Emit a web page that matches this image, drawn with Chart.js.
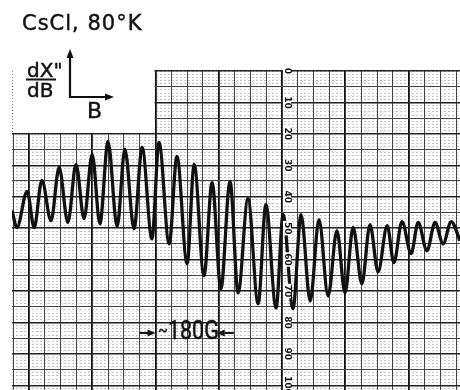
<!DOCTYPE html>
<html>
<head>
<meta charset="utf-8">
<script src="https://cdn.jsdelivr.net/npm/chart.js@4.4.1/dist/chart.umd.min.js"></script>
<style>
  html, body { margin:0; padding:0; background:#fff; }
  #wrap { position:relative; width:460px; height:390px; overflow:hidden;
          font-family:"DejaVu Sans", sans-serif; color:#111; }
  #wrap canvas { position:absolute; left:0; top:0; }
  .lbl { position:absolute; white-space:nowrap; line-height:1; -webkit-text-stroke:0.45px #111; }
</style>
</head>
<body>
<div id="wrap">
  <canvas id="c" width="460" height="390"></canvas>
  <div class="lbl" style="left:22px;top:13px;font-size:21px;letter-spacing:1px">CsCl, 80°K</div>
  <div class="lbl" style="left:27px;top:60px;font-size:20px">dX"</div>
  <div class="lbl" style="left:27px;top:80px;font-size:20px">dB</div>
  <div class="lbl" style="left:87px;top:100px;font-size:22px">B</div>
  <div class="lbl" style="left:158px;top:318px;font-size:25px;font-family:Roboto,sans-serif;transform:scaleX(0.86);transform-origin:left top"><span style="font-size:17px;vertical-align:3px">~</span>180G</div>
</div>

<script>
// ---- data ----
// field, gauss (0 = left edge of the paper), at each peak / trough
const FIELD_G = [0, 14, 43, 63, 85, 111, 134, 159, 182, 205, 228, 250, 273, 299, 321, 347,
  370, 398, 418, 447, 469, 498, 518, 546, 569, 594, 620, 643, 671, 700, 722, 751, 771, 799,
  822, 848, 873, 899, 924, 947, 970, 995, 1018, 1041, 1067, 1086, 1109, 1135, 1155, 1180,
  1203, 1226, 1249, 1274];
// pen position in chart divisions (0 at top of paper, grows downwards)
const SIGNAL = [44.4, 49.8, 38.3, 49.8, 34.8, 47.6, 30.7, 48.2, 29.7, 47.0, 26.5, 48.6, 22.4,
  49.5, 24.9, 50.2, 24.3, 53.4, 22.7, 55.0, 27.2, 61.3, 29.7, 65.2, 35.5, 69.3, 35.1, 70.6,
  40.6, 74.1, 42.5, 75.4, 45.7, 75.7, 45.7, 73.2, 47.3, 71.6, 50.8, 70.6, 49.8, 67.7, 48.9,
  63.9, 49.2, 61.0, 47.9, 58.1, 48.2, 57.2, 48.2, 55.0, 47.9, 54.0];

// printed divisions of the chart paper
const SCALE_LABELS = [0, 10, 20, 30, 40, 50, 60, 70, 80, 90, 100];
const X_MIN = 0, X_MAX = 1274;
const Y_MIN = 0, Y_MAX = 101.5;
const GRID_X_START = 3, GRID_X_STEP = 45, HEAVY_X_START = 48, HEAVY_X_STEP = 180;
const GRID_Y_STEP = 5;
const LABEL_FIELD = 782;      // field where the division numbers are printed
const BOX_FIELD = 408, BOX_DIV = 20;  // white caption corner of the paper

const range = (a, b, s) => { const r = []; for (let v = a; v <= b + 1e-6; v += s) r.push(+v.toFixed(3)); return r; };

const isHeavyX = v => Math.abs(((v - HEAVY_X_START) % HEAVY_X_STEP + HEAVY_X_STEP) % HEAVY_X_STEP) < 0.5;

const paper = {
  id: 'paper',
  beforeDatasetsDraw(chart) {
    const { ctx, chartArea: a } = chart;
    const xs = chart.scales.x, ys = chart.scales.y;
    // blank corner where the captions sit
    const r = xs.getPixelForValue(BOX_FIELD) - 1;
    const b = ys.getPixelForValue(BOX_DIV) - 1;
    ctx.save();
    ctx.fillStyle = '#fff';
    ctx.fillRect(a.left - 2, 0, r - a.left + 2, b);
    ctx.strokeStyle = '#777';
    ctx.lineWidth = 1;
    ctx.setLineDash([1, 2]);
    ctx.beginPath();
    ctx.moveTo(a.left + 0.5, a.top);
    ctx.lineTo(a.left + 0.5, b);
    ctx.stroke();
    ctx.restore();
  },
  afterDraw(chart) {
    const { ctx } = chart;
    const xs = chart.scales.x, ys = chart.scales.y;
    ctx.save();
    // division numbers, printed sideways
    const lx = xs.getPixelForValue(LABEL_FIELD);
    ctx.font = 'bold 9px "DejaVu Sans", sans-serif';
    ctx.textAlign = 'center';
    ctx.textBaseline = 'middle';
    SCALE_LABELS.forEach(v => {
      const y = ys.getPixelForValue(v);
      ctx.save();
      ctx.translate(lx, y);
      ctx.rotate(Math.PI / 2);
      const w = ctx.measureText(String(v)).width;
      ctx.fillStyle = '#fff';
      ctx.fillRect(-w / 2 - 1, -4, w + 2, 8);
      ctx.fillStyle = '#111';
      ctx.fillText(String(v), 0, 0);
      ctx.restore();
    });

    // fraction bar and axis sketch
    ctx.strokeStyle = '#111';
    ctx.fillStyle = '#111';
    ctx.lineWidth = 2.2;
    ctx.beginPath();
    ctx.moveTo(26, 79.5); ctx.lineTo(56, 79.5);
    ctx.moveTo(70, 57); ctx.lineTo(70, 97); ctx.lineTo(106, 97);
    ctx.stroke();
    ctx.beginPath();
    ctx.moveTo(70, 49); ctx.lineTo(66.5, 58); ctx.lineTo(73.5, 58); ctx.closePath();
    ctx.moveTo(114, 97); ctx.lineTo(105, 93.5); ctx.lineTo(105, 100.5); ctx.closePath();
    ctx.fill();

    // 180 G bracket, one heavy division of the paper
    const ay = 333;
    const x1 = xs.getPixelForValue(HEAVY_X_START + 2 * HEAVY_X_STEP);
    const x2 = xs.getPixelForValue(HEAVY_X_START + 3 * HEAVY_X_STEP);
    ctx.lineWidth = 2;
    ctx.beginPath();
    ctx.moveTo(x1 - 16, ay); ctx.lineTo(x1 - 6, ay);
    ctx.moveTo(x2 + 6, ay); ctx.lineTo(x2 + 15, ay);
    ctx.stroke();
    ctx.beginPath();
    ctx.moveTo(x1, ay); ctx.lineTo(x1 - 8, ay - 3.5); ctx.lineTo(x1 - 8, ay + 3.5); ctx.closePath();
    ctx.moveTo(x2 - 2, ay); ctx.lineTo(x2 + 6, ay - 3.5); ctx.lineTo(x2 + 6, ay + 3.5); ctx.closePath();
    ctx.fill();
    ctx.restore();
  }
};

const hidden = { ticks: { display: false }, border: { display: false } };

new Chart(document.getElementById('c'), {
  type: 'line',
  data: {
    datasets: [{
      data: FIELD_G.map((g, i) => ({ x: g, y: SIGNAL[i] })),
      borderColor: '#111',
      borderWidth: 3.3,
      pointRadius: 0,
      cubicInterpolationMode: 'monotone',
      fill: false
    }]
  },
  options: {
    responsive: false,
    animation: false,
    devicePixelRatio: 1,
    layout: { padding: { left: 12, top: 71, right: 0, bottom: 0 } },
    plugins: { legend: { display: false }, tooltip: { enabled: false } },
    scales: {
      xf: {
        type: 'linear', axis: 'x', position: 'bottom', min: X_MIN, max: X_MAX, ...hidden,
        border: { display: false, dash: [1, 3] },
        afterBuildTicks: s => { s.ticks = range(GRID_X_START, X_MAX, GRID_X_STEP / 5).map(v => ({ value: v })); },
        grid: { drawTicks: false, color: 'rgba(0,0,0,0.10)', lineWidth: 1 }
      },
      yf: {
        type: 'linear', axis: 'y', position: 'left', reverse: true, min: Y_MIN, max: Y_MAX, ...hidden,
        border: { display: false, dash: [2, 2] },
        afterBuildTicks: s => { s.ticks = range(Y_MIN, Y_MAX, GRID_Y_STEP / 5).map(v => ({ value: v })); },
        grid: { drawTicks: false, color: 'rgba(0,0,0,0.22)', lineWidth: 1 }
      },
      x: {
        type: 'linear', min: X_MIN, max: X_MAX, ...hidden,
        afterBuildTicks: s => { s.ticks = range(GRID_X_START, X_MAX, GRID_X_STEP).map(v => ({ value: v })); },
        grid: {
          drawTicks: false,
          color: c => isHeavyX(c.tick.value) ? '#111' : '#444',
          lineWidth: c => isHeavyX(c.tick.value) ? 1.8 : 1
        }
      },
      y: {
        type: 'linear', reverse: true, min: Y_MIN, max: Y_MAX, ...hidden,
        afterBuildTicks: s => { s.ticks = range(Y_MIN, Y_MAX, GRID_Y_STEP).map(v => ({ value: v })); },
        grid: {
          drawTicks: false,
          color: c => c.tick.value % 10 === 0 ? '#222' : '#444',
          lineWidth: c => c.tick.value % 10 === 0 ? 1.4 : 1.1
        }
      }
    }
  },
  plugins: [paper]
});
</script>
</body>
</html>
